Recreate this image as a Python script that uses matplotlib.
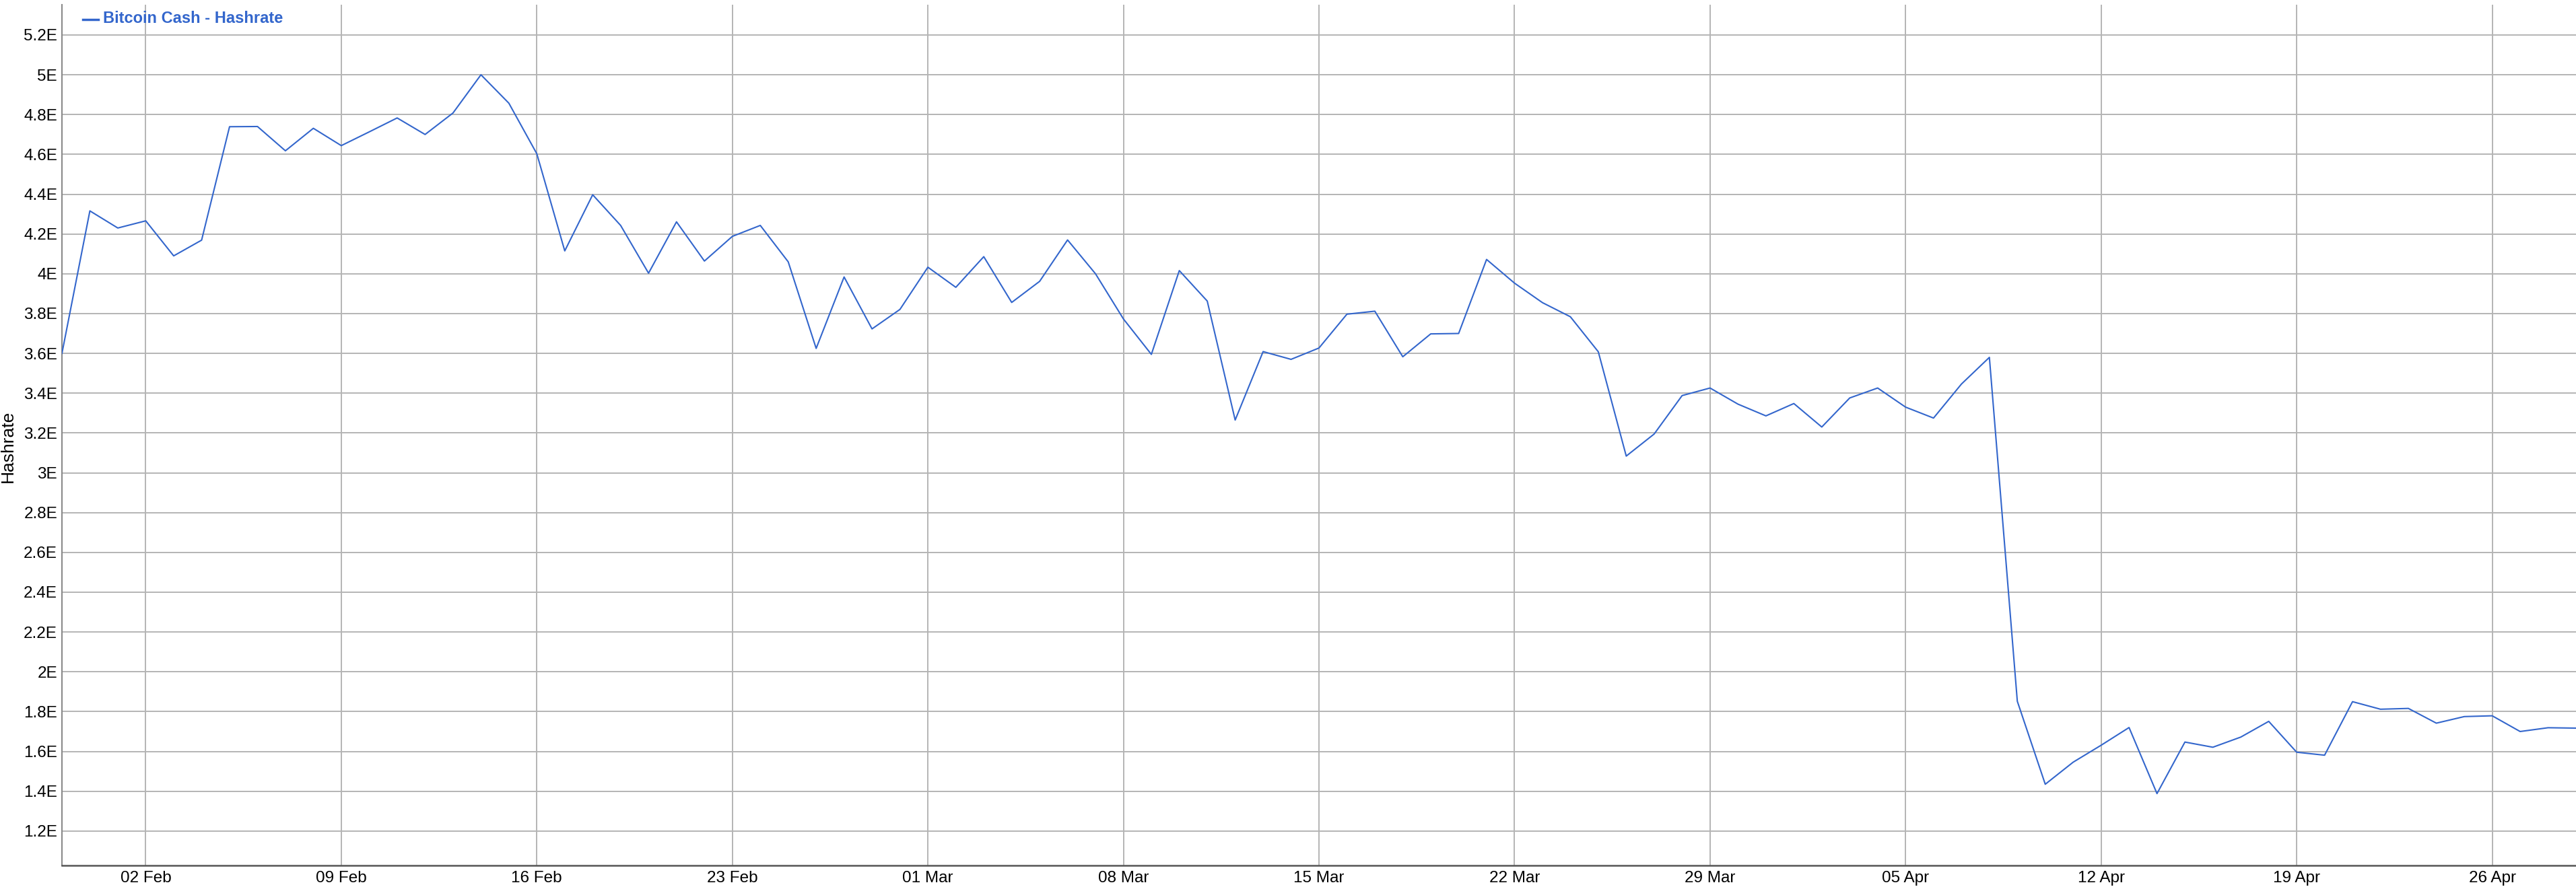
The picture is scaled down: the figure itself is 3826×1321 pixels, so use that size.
import matplotlib
matplotlib.use("Agg")
import matplotlib.pyplot as plt
import matplotlib.dates as mdates
from matplotlib.lines import Line2D
from matplotlib.ticker import FixedLocator, FuncFormatter
import pandas as pd

plt.rcParams['font.family'] = ['Liberation Sans', 'DejaVu Sans']

series_name = "Bitcoin Cash - Hashrate"
y_label = "Hashrate"
start_date = "2020-01-30"

# Hashrate in EH/s, one value per day from 30 Jan 2020
hashrate = [
    3.60, 4.316, 4.23, 4.266, 4.09, 4.169, 4.739, 4.74, 4.618, 4.731,
    4.644, 4.713, 4.783, 4.70, 4.808, 5.00, 4.857, 4.603, 4.115, 4.397,
    4.243, 4.003, 4.261, 4.064, 4.188, 4.243, 4.06, 3.625, 3.984, 3.723,
    3.821, 4.033, 3.932, 4.086, 3.856, 3.962, 4.17, 4.00, 3.773, 3.595,
    4.016, 3.863, 3.265, 3.609, 3.57, 3.627, 3.797, 3.812, 3.583, 3.698,
    3.70, 4.072, 3.953, 3.855, 3.784, 3.608, 3.084, 3.195, 3.388, 3.426,
    3.345, 3.286, 3.348, 3.23, 3.376, 3.426, 3.33, 3.275, 3.446, 3.58,
    1.852, 1.435, 1.546, 1.631, 1.72, 1.388, 1.647, 1.621, 1.672, 1.751,
    1.596, 1.581, 1.85, 1.812, 1.816, 1.742, 1.775, 1.779, 1.70, 1.719,
    1.717,
]

x_tick_dates = ["2020-02-02", "2020-02-09", "2020-02-16", "2020-02-23",
                "2020-03-01", "2020-03-08", "2020-03-15", "2020-03-22",
                "2020-03-29", "2020-04-05", "2020-04-12", "2020-04-19",
                "2020-04-26"]
y_ticks = [1.2, 1.4, 1.6, 1.8, 2.0, 2.2, 2.4, 2.6, 2.8, 3.0, 3.2, 3.4,
           3.6, 3.8, 4.0, 4.2, 4.4, 4.6, 4.8, 5.0, 5.2]

dates = pd.date_range(start_date, periods=len(hashrate), freq="D")

W, H = 3826, 1321
fig = plt.figure(figsize=(W / 100, H / 100), dpi=100)
left, right = 92 / W, 1.0
bottom, top = 1 - 1286 / H, 1 - 7 / H
ax = fig.add_axes([left, bottom, right - left, top - bottom])

line_color = "#3366CC"
ax.plot(dates, hashrate, color=line_color, lw=1.5, zorder=3)

ax.set_xlim(dates[0], dates[-1])
ax.set_ylim(1.027, 5.352)

ax.xaxis.set_major_locator(FixedLocator(mdates.date2num(pd.to_datetime(x_tick_dates))))
ax.xaxis.set_major_formatter(mdates.DateFormatter("%d %b"))
ax.yaxis.set_major_locator(FixedLocator(y_ticks))
ax.yaxis.set_major_formatter(FuncFormatter(lambda v, p: f"{v:g}E"))

ax.grid(True, color="#b4b4b4", lw=1.4, zorder=0)
ax.set_axisbelow(True)
ax.tick_params(length=0, labelsize=17.5, colors="#000000")
ax.tick_params(axis="y", pad=5)
ax.tick_params(axis="x", pad=5.5)

for s in ["top", "right"]:
    ax.spines[s].set_visible(False)
ax.spines["left"].set_color("#8a8a8a")
ax.spines["left"].set_linewidth(1.5)
ax.spines["bottom"].set_color("#555555")
ax.spines["bottom"].set_linewidth(1.8)

fig.text(12 / W, 1 - 663 / H, y_label, rotation=90, ha="center", va="center",
         fontsize=19)

# legend
fig.add_artist(Line2D([123 / W, 146 / W], [1 - 29 / H, 1 - 29 / H],
                      color=line_color, lw=2.5, transform=fig.transFigure))
fig.text(153 / W, 1 - 28 / H, series_name, color=line_color, fontsize=17,
         fontweight="bold", ha="left", va="center")

fig.savefig("out.png", dpi=100, facecolor="white")
